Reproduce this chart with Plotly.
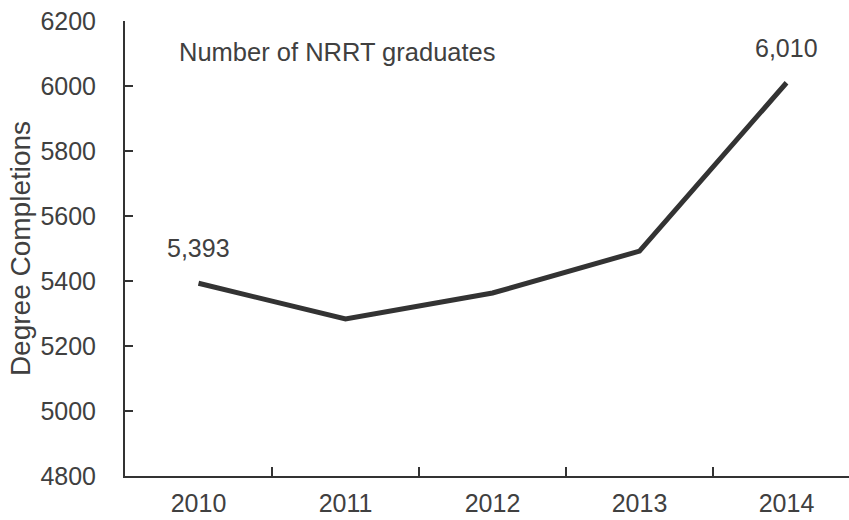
import plotly.graph_objects as go

years = ["2010", "2011", "2012", "2013", "2014"]
completions = [5393, 5283, 5363, 5492, 6010]
labeled_idx = [0, 4]
labeled_text = ["5,393", "6,010"]
y_ticks = [4800, 5000, 5200, 5400, 5600, 5800, 6000, 6200]

TXT = "#404040"
FONT = "Liberation Sans, Arial, sans-serif"

fig = go.Figure()
fig.add_trace(go.Scatter(
    x=years, y=completions, mode="lines",
    line=dict(color="#333333", width=5),
    hoverinfo="skip", showlegend=False,
))

for i, txt in zip(labeled_idx, labeled_text):
    fig.add_annotation(x=i, y=completions[i], xref="x", yref="y", text=txt,
                       showarrow=False, yshift=35,
                       font=dict(family=FONT, size=25, color=TXT))

fig.add_annotation(xref="paper", yref="paper", x=0.072, y=0.932,
                   xanchor="left", yanchor="middle", showarrow=False,
                   text="Number of NRRT graduates",
                   font=dict(family=FONT, size=25.5, color=TXT))

fig.update_layout(
    width=849, height=520,
    margin=dict(l=125, r=0, t=21, b=44),
    paper_bgcolor="white", plot_bgcolor="white",
    font=dict(family=FONT, size=25, color=TXT),
    xaxis=dict(type="category", range=[-0.5, 4.425], tickson="boundaries",
               ticks="inside", ticklen=9, tickwidth=2, tickcolor="#333",
               showline=True, linecolor="#333", linewidth=2,
               showgrid=False, zeroline=False, ticklabelstandoff=4,
               tickfont=dict(size=25, color=TXT)),
    yaxis=dict(range=[4800, 6200], tickvals=y_ticks,
               ticks="inside", ticklen=8, tickwidth=2, tickcolor="#333",
               showline=True, linecolor="#333", linewidth=2,
               showgrid=False, zeroline=False, ticklabelstandoff=22,
               tickfont=dict(size=25, color=TXT),
               title=dict(text="Degree Completions", standoff=2,
                          font=dict(size=28, color=TXT))),
)

fig.write_html("out.html")
